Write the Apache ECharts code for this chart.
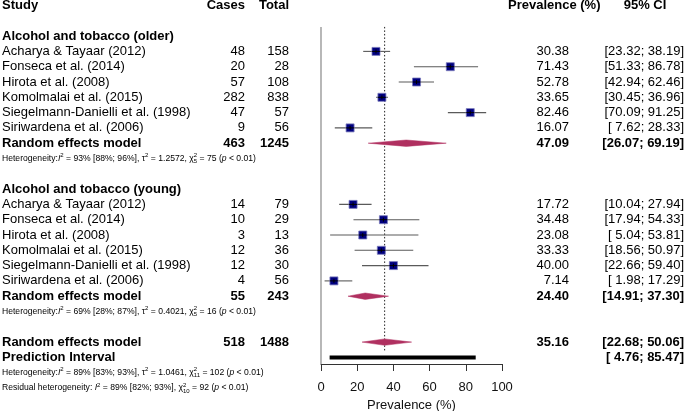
<!DOCTYPE html>
<html>
<head>
<meta charset="utf-8">
<script src="https://cdn.jsdelivr.net/npm/echarts@6/dist/echarts.min.js"></script>
<style>html,body{margin:0;padding:0;background:#fff;}#chart{width:685px;height:411px;}</style>
</head>
<body>
<div id="chart"></div>
<script>
// ---------- data ----------
const olderStudies = ['Acharya & Tayaar (2012)','Fonseca et al. (2014)','Hirota et al. (2008)','Komolmalai et al. (2015)','Siegelmann-Danielli et al. (1998)','Siriwardena et al. (2006)'];
const olderCases = [48, 20, 57, 282, 47, 9];
const olderTotal = [158, 28, 108, 838, 57, 56];
const olderPrev  = [30.38, 71.43, 52.78, 33.65, 82.46, 16.07];
const olderLower = [23.32, 51.33, 42.94, 30.45, 70.09, 7.62];
const olderUpper = [38.19, 86.78, 62.46, 36.96, 91.25, 28.33];

const youngStudies = ['Acharya & Tayaar (2012)','Fonseca et al. (2014)','Hirota et al. (2008)','Komolmalai et al. (2015)','Siegelmann-Danielli et al. (1998)','Siriwardena et al. (2006)'];
const youngCases = [14, 10, 3, 12, 12, 4];
const youngTotal = [79, 29, 13, 36, 30, 56];
const youngPrev  = [17.72, 34.48, 23.08, 33.33, 40.00, 7.14];
const youngLower = [10.04, 17.94, 5.04, 18.56, 22.66, 1.98];
const youngUpper = [27.94, 54.33, 53.81, 50.97, 59.40, 17.29];

const pooledCases = [463, 55, 518];
const pooledTotal = [1245, 243, 1488];
const pooledPrev  = [47.09, 24.40, 35.16];
const pooledLower = [26.07, 14.91, 22.68];
const pooledUpper = [69.19, 37.30, 50.06];
const predictionInterval = [4.76, 85.47];

const groupTitles = ['Alcohol and tobacco (older)', 'Alcohol and tobacco (young)'];
const hetTexts = [
  'Heterogeneity:{i|I}{sup|2} = 93% [88%; 96%], τ{sup|2} = 1.2572, χ{supz|2}{sub|5} = 75 ({i|p} < 0.01)',
  'Heterogeneity:{i|I}{sup|2} = 69% [28%; 87%], τ{sup|2} = 0.4021, χ{supz|2}{sub|5} = 16 ({i|p} < 0.01)',
  'Heterogeneity:{i|I}{sup|2} = 89% [83%; 93%], τ{sup|2} = 1.0461, χ{supz|2}{sub|11} = 102 ({i|p} < 0.01)',
  'Residual heterogeneity: {i|I}{sup|2} = 89% [82%; 93%], χ{supz|2}{sub|10} = 92 ({i|p} < 0.01)'
];
const xTickMin = 0, xTickMax = 100, xTickStep = 20;

// ---------- layout ----------
const FONT = "'Liberation Sans', Arial, Helvetica, sans-serif";
const colStudy = 2, colCases = 245, colTotal = 289, colPrev = 569, colCI = 684;
const fmtCI = (lo, hi) => '[' + lo.toFixed(2).padStart(5, ' ') + '; ' + hi.toFixed(2).padStart(5, ' ') + ']';

const texts = [];   // {row, x, align, text, bold, het}
const marks = [];   // [est, row, lo, hi, kind]  kind: 0 study, 1 diamond, 2 PI

function addTxt(row, x, align, text, bold) { texts.push({row, x, align, text: String(text), bold: !!bold}); }

addTxt(0, colStudy, 'left', 'Study', true);
addTxt(0, colCases, 'right', 'Cases', true);
addTxt(0, colTotal, 'right', 'Total', true);
addTxt(0, 508, 'left', 'Prevalence (%)', true);
addTxt(0, 645, 'center', '95% CI', true);

function addGroup(startRow, title, studies, cases, total, prev, lo, hi, g) {
  addTxt(startRow, colStudy, 'left', title, true);
  studies.forEach((s, i) => {
    const r = startRow + 1 + i;
    addTxt(r, colStudy, 'left', s);
    addTxt(r, colCases, 'right', cases[i]);
    addTxt(r, colTotal, 'right', total[i]);
    addTxt(r, colPrev, 'right', prev[i].toFixed(2));
    addTxt(r, colCI, 'right', fmtCI(lo[i], hi[i]));
    marks.push([prev[i], r, lo[i], hi[i], 0]);
  });
  const rr = startRow + 1 + studies.length;
  addTxt(rr, colStudy, 'left', 'Random effects model', true);
  addTxt(rr, colCases, 'right', pooledCases[g], true);
  addTxt(rr, colTotal, 'right', pooledTotal[g], true);
  addTxt(rr, colPrev, 'right', pooledPrev[g].toFixed(2), true);
  addTxt(rr, colCI, 'right', fmtCI(pooledLower[g], pooledUpper[g]), true);
  marks.push([pooledPrev[g], rr, pooledLower[g], pooledUpper[g], 1]);
  texts.push({row: rr + 1, x: colStudy, align: 'left', text: hetTexts[g], het: true});
}
addGroup(2, groupTitles[0], olderStudies, olderCases, olderTotal, olderPrev, olderLower, olderUpper, 0);
addGroup(12, groupTitles[1], youngStudies, youngCases, youngTotal, youngPrev, youngLower, youngUpper, 1);

addTxt(22, colStudy, 'left', 'Random effects model', true);
addTxt(22, colCases, 'right', pooledCases[2], true);
addTxt(22, colTotal, 'right', pooledTotal[2], true);
addTxt(22, colPrev, 'right', pooledPrev[2].toFixed(2), true);
addTxt(22, colCI, 'right', fmtCI(pooledLower[2], pooledUpper[2]), true);
marks.push([pooledPrev[2], 22, pooledLower[2], pooledUpper[2], 1]);
addTxt(23, colStudy, 'left', 'Prediction Interval', true);
addTxt(23, colCI, 'right', fmtCI(predictionInterval[0], predictionInterval[1]), true);
marks.push([(predictionInterval[0] + predictionInterval[1]) / 2, 23, predictionInterval[0], predictionInterval[1], 2]);
texts.push({row: 24, x: colStudy, align: 'left', text: hetTexts[2], het: true});
texts.push({row: 25, x: colStudy, align: 'left', text: hetTexts[3], het: true});

const ROW_H = 15.3, TOP = 5.5, AXIS_Y = 364;
const yMax = (AXIS_Y - TOP) / ROW_H;
const refLines = [[0, 1.4, yMax, 0], [pooledPrev[2], 1.4, 22.65, 1]];

const HET_FS = 8.6;
const hetRich = {
  i: {fontStyle: 'italic', fontSize: HET_FS, fontFamily: FONT, lineHeight: 12},
  sup: {fontSize: 6, fontFamily: FONT, verticalAlign: 'top', lineHeight: 7},
  supz: {fontSize: 6, fontFamily: FONT, verticalAlign: 'top', lineHeight: 7, width: 0},
  sub: {fontSize: 6, fontFamily: FONT, verticalAlign: 'bottom', lineHeight: 7}
};

const chart = echarts.init(document.getElementById('chart'), null, {renderer: 'canvas'});
chart.setOption({
  animation: false,
  backgroundColor: '#fff',
  grid: {left: 321, width: 181, top: TOP, height: AXIS_Y - TOP, containLabel: false, outerBoundsMode: 'none'},
  xAxis: {
    type: 'value', position: 'bottom', min: xTickMin, max: xTickMax, interval: xTickStep,
    axisLine: {show: true, onZero: false, lineStyle: {color: '#333', width: 1}},
    axisTick: {show: true, length: 7, lineStyle: {color: '#333'}},
    axisLabel: {fontSize: 13, color: '#111', fontFamily: FONT, margin: 17},
    splitLine: {show: false},
    name: 'Prevalence (%)', nameLocation: 'middle', nameGap: 32,
    nameTextStyle: {fontSize: 13, color: '#111', fontFamily: FONT}
  },
  yAxis: {type: 'value', inverse: true, min: 0, max: yMax, scale: true, show: false,
    axisLine: {show: false}, splitLine: {show: false}, axisTick: {show: false}, axisLabel: {show: false}},
  series: [
    {
      type: 'custom', clip: false, silent: true, z: 1,
      data: refLines,
      renderItem: (params, api) => {
        const p1 = api.coord([api.value(0), api.value(1)]);
        const p2 = api.coord([api.value(0), api.value(2)]);
        const dotted = api.value(3) === 1;
        return {type: 'line', shape: {x1: p1[0], y1: p1[1], x2: p2[0], y2: p2[1]},
          style: dotted ? {stroke: '#222', lineWidth: 1, lineDash: [1.5, 2]} : {stroke: '#a6a6a6', lineWidth: 1.6}};
      }
    },
    {
      type: 'custom', clip: false, silent: true, z: 3,
      data: marks,
      renderItem: (params, api) => {
        const est = api.value(0), row = api.value(1), lo = api.value(2), hi = api.value(3), kind = api.value(4);
        const c = api.coord([est, row]), l = api.coord([lo, row]), h = api.coord([hi, row]);
        const y = c[1];
        if (kind === 0) {
          const s = 8;
          return {type: 'group', children: [
            {type: 'line', shape: {x1: l[0], y1: y, x2: h[0], y2: y}, style: {stroke: '#5a5a5a', lineWidth: 1.1}},
            {type: 'rect', shape: {x: c[0] - s / 2, y: y - s / 2, width: s, height: s}, style: {fill: '#00007f', stroke: '#7b7bbd', lineWidth: 0.8}},
            {type: 'line', shape: {x1: c[0] - s / 2, y1: y, x2: c[0] + s / 2, y2: y}, style: {stroke: '#000', lineWidth: 1}},
            {type: 'line', shape: {x1: c[0], y1: y - 2, x2: c[0], y2: y + 2}, style: {stroke: '#000', lineWidth: 1}}
          ]};
        } else if (kind === 1) {
          const hh = 3.2;
          return {type: 'polygon', shape: {points: [[l[0], y], [c[0], y - hh], [h[0], y], [c[0], y + hh]]}, style: {fill: '#b03060', stroke: '#b03060', lineWidth: 0.5}};
        } else {
          return {type: 'rect', shape: {x: l[0], y: y - 2, width: h[0] - l[0], height: 4}, style: {fill: '#000'}};
        }
      }
    },
    {
      type: 'custom', clip: false, silent: true, z: 4,
      data: texts.map((t, i) => [0, t.row, i]),
      renderItem: (params, api) => {
        const t = texts[params.dataIndex];
        const y = api.coord([0, t.row])[1];
        if (t.het) {
          return {type: 'text', x: t.x, y: y, style: {
            text: t.text, fill: '#000', fontSize: HET_FS, fontFamily: FONT, lineHeight: 12,
            textAlign: 'left', textVerticalAlign: 'middle', rich: hetRich
          }};
        }
        return {type: 'text', x: t.x, y: y, style: {
          text: t.text, fill: '#000', fontSize: 13, fontWeight: t.bold ? 'bold' : 'normal', fontFamily: FONT,
          textAlign: t.align, textVerticalAlign: 'middle'
        }};
      }
    }
  ]
});
</script>
</body>
</html>
